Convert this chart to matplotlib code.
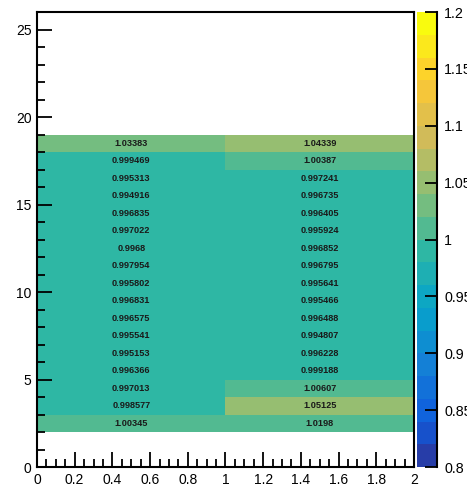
import numpy as np
import matplotlib

matplotlib.use("Agg")

import matplotlib.pyplot as plt
from matplotlib.colors import LinearSegmentedColormap, ListedColormap, BoundaryNorm
from matplotlib.ticker import MultipleLocator

plt.rcParams["font.family"] = ["Liberation Sans", "DejaVu Sans"]

# histogram bins: x in [0,2] (2 bins), y in [2,19] (17 bins), listed bottom -> top
x_edges = [0, 1, 2]
y_edges = list(range(2, 20))
left_col = [1.00345, 0.998577, 0.997013, 0.996366, 0.995153, 0.995541, 0.996575,
            0.996831, 0.995802, 0.997954, 0.9968, 0.997022, 0.996835, 0.994916,
            0.995313, 0.999469, 1.03383]
right_col = [1.0198, 1.05125, 1.00607, 0.999188, 0.996228, 0.994807, 0.996488,
             0.995466, 0.995641, 0.996795, 0.996852, 0.995924, 0.996405, 0.996735,
             0.997241, 1.00387, 1.04339]
z_min, z_max, n_levels = 0.8, 1.2, 20

# ROOT kBird palette
stops = [0.0, 0.125, 0.25, 0.375, 0.5, 0.625, 0.75, 0.875, 1.0]
red = [0.2082, 0.0592, 0.0780, 0.0232, 0.1802, 0.5301, 0.8186, 0.9956, 0.9764]
green = [0.1664, 0.3599, 0.5041, 0.6419, 0.7178, 0.7492, 0.7328, 0.7862, 0.9832]
blue = [0.5293, 0.8684, 0.8385, 0.7914, 0.6425, 0.4662, 0.3499, 0.1968, 0.0539]
bird = LinearSegmentedColormap.from_list(
    "bird", list(zip(stops, zip(red, green, blue))), N=255)
level_colors = [bird(int((i + 0.99) * 255 / n_levels) / 254) for i in range(n_levels)]
cmap = ListedColormap(level_colors)
bounds = np.linspace(z_min, z_max, n_levels + 1)
norm = BoundaryNorm(bounds, cmap.N)

fig = plt.figure(figsize=(4.67, 4.88), dpi=100, facecolor="white")
ax = fig.add_axes([0.0792, 0.043, 0.8073, 0.9324])
cax = fig.add_axes([0.893, 0.043, 0.043, 0.9324])

Z = np.array([left_col, right_col]).T
ax.pcolormesh(x_edges, y_edges, Z, cmap=cmap, norm=norm, edgecolors="none")
for j in range(len(left_col)):
    yc = (y_edges[j] + y_edges[j + 1]) / 2
    for i, v in enumerate(Z[j]):
        xc = (x_edges[i] + x_edges[i + 1]) / 2
        ax.text(xc, yc, f"{v:g}", ha="center", va="center", fontsize=6.6,
                fontweight="bold", color="#1a1a1a")

ax.set_xlim(0, 2)
ax.set_ylim(0, 26)
ax.xaxis.set_major_locator(MultipleLocator(0.2))
ax.xaxis.set_minor_locator(MultipleLocator(0.05))
ax.yaxis.set_major_locator(MultipleLocator(5))
ax.yaxis.set_minor_locator(MultipleLocator(1))
ax.xaxis.set_major_formatter(plt.FuncFormatter(lambda v, p: f"{v:g}"))
ax.tick_params(which="both", direction="in", top=False, right=False,
               labelsize=10, width=1.3, pad=4)
ax.tick_params(which="major", length=11)
ax.tick_params(which="minor", length=5.5)
for s in ax.spines.values():
    s.set_linewidth(1.5)

# palette box
cax.pcolormesh([0, 1], bounds, np.array(bounds[:-1] + 0.01).reshape(-1, 1),
               cmap=cmap, norm=norm, edgecolors="none")
cax.set_xlim(0, 1)
cax.set_ylim(z_min, z_max)
cax.set_xticks([])
for name in ("left", "top", "bottom"):
    cax.spines[name].set_visible(False)
cax.spines["right"].set_linewidth(1.5)
cax.yaxis.tick_right()
cax.yaxis.set_major_locator(MultipleLocator(0.05))
cax.yaxis.set_major_formatter(plt.FuncFormatter(lambda v, p: f"{v:g}"))
cax.tick_params(axis="y", direction="in", length=9, width=1.3, labelsize=10.3, pad=5)

fig.savefig("out.png", dpi=100, facecolor="white")
